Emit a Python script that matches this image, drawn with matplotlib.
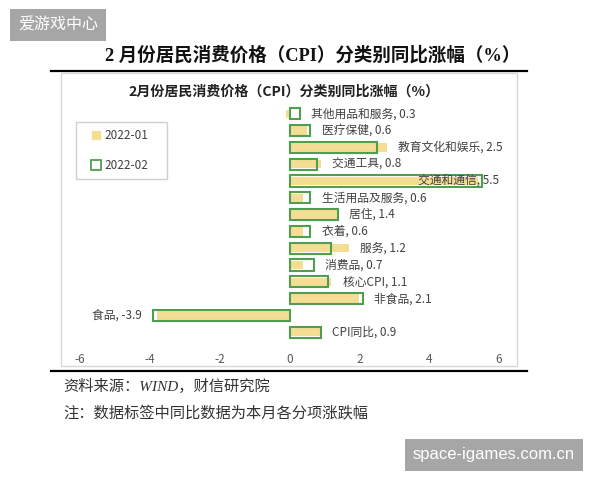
import numpy as np
import matplotlib
matplotlib.use('Agg')
import matplotlib.pyplot as plt
from matplotlib.lines import Line2D
from matplotlib.patches import Rectangle

plt.rcParams['font.family'] = ['Noto Sans CJK SC', 'DejaVu Sans']

# --- data (top to bottom) ---
categories = ['其他用品和服务', '医疗保健', '教育文化和娱乐', '交通工具', '交通和通信',
              '生活用品及服务', '居住', '衣着', '服务', '消费品', '核心CPI', '非食品',
              '食品', 'CPI同比']
jan_2022 = [-0.1, 0.5, 2.8, 0.9, 5.4, 0.4, 1.4, 0.4, 1.7, 0.4, 1.2, 2.0, -3.8, 0.9]
feb_2022 = [0.3, 0.6, 2.5, 0.8, 5.5, 0.6, 1.4, 0.6, 1.2, 0.7, 1.1, 2.1, -3.9, 0.9]
series_names = ['2022-01', '2022-02']
x_ticks = [-6, -4, -2, 0, 2, 4, 6]

title_outer = '2 月份居民消费价格（CPI）分类别同比涨幅（%）'
title_inner = '2月份居民消费价格（CPI）分类别同比涨幅（%）'
source_text = '资料来源：WIND，财信研究院'
note_text = '注：数据标签中同比数据为本月各分项涨跌幅'

W, H = 600, 480
def fx(px):
    return px / W
def fy(py):
    return 1 - py / H

fig = plt.figure(figsize=(6, 4.8), dpi=100)
fig.patch.set_facecolor('white')

yellow = '#F4DE94'
green = '#4E9F50'
text_c = '#404040'

# inner chart frame
fig.add_artist(Rectangle((fx(61), fy(366)), fx(516.5) - fx(61), fy(73) - fy(366),
                         transform=fig.transFigure, fill=False, edgecolor='#d9d9d9', lw=1))
# thick rules
for py in (70.5, 370.5):
    fig.add_artist(Line2D([fx(51), fx(527)], [fy(py), fy(py)], transform=fig.transFigure,
                          color='black', lw=1.6))

ax = fig.add_axes([fx(80), fy(340.7), fx(499) - fx(80), (340.7 - 105.3) / H])
y = np.arange(len(categories))
ax.barh(y, jan_2022, height=0.5, color=yellow, zorder=2)
ax.barh(y, feb_2022, height=0.66, fill=False, edgecolor=green, lw=1.5, zorder=3)

ax.set_xlim(x_ticks[0], x_ticks[-1])
ax.set_ylim(len(categories) - 0.5, -0.5)
ax.set_xticks(x_ticks)
ax.set_xticklabels([str(t) for t in x_ticks])
ax.set_yticks([])
ax.tick_params(axis='x', length=0, pad=9, labelsize=8.5, labelcolor='#595959')
for s in ax.spines.values():
    s.set_visible(False)

xmax = ax.get_xlim()[1]
for i, (cat, a, b) in enumerate(zip(categories, jan_2022, feb_2022)):
    lab = f'{cat}, {b:.1f}'
    if b < 0:
        ax.annotate(lab, (min(a, b), i), xytext=(-8, 0), textcoords='offset points',
                    ha='right', va='center', fontsize=8.5, color=text_c, zorder=4)
    elif max(a, b) > 0.75 * xmax:
        ax.text(xmax, i, lab, ha='right', va='center', fontsize=8.5, color=text_c, zorder=4)
    else:
        ax.annotate(lab, (max(a, b, 0), i), xytext=(8, 0), textcoords='offset points',
                    ha='left', va='center', fontsize=8.5, color=text_c, zorder=4)

# legend: own frame, entries placed inside it
fig.add_artist(Rectangle((fx(76), fy(179)), fx(167) - fx(76), fy(122) - fy(179),
                         transform=fig.transFigure, fill=False, edgecolor='#d0d0d0', lw=1))
handles = [Line2D([], [], marker='s', ls='none', markersize=6, markerfacecolor=yellow,
                  markeredgecolor=yellow),
           Line2D([], [], marker='s', ls='none', markersize=7, markerfacecolor='white',
                  markeredgecolor=green, markeredgewidth=1.3)]
leg = fig.legend(handles, series_names, loc='center left', bbox_to_anchor=(fx(91), fy(150.5)),
                 fontsize=8.5, frameon=False, borderpad=0, labelspacing=1.45,
                 handlelength=0.8, handletextpad=0.3, borderaxespad=0)
for t in leg.get_texts():
    t.set_color(text_c)

fig.text(fx(313), fy(55), title_outer, ha='center', va='center', fontsize=13.3,
         fontweight='bold', family=['Liberation Serif', 'Noto Sans CJK SC'], color='#111111')
fig.text(fx(284.5), fy(92), title_inner, ha='center', va='center', fontsize=10.1,
         fontweight='bold', color='#222222')

fig.text(fx(63), fy(386), source_text, ha='left', va='center', fontsize=11,
         style='italic', family=['Liberation Serif', 'Noto Sans CJK SC'], color='#333333')
fig.text(fx(63), fy(413), note_text, ha='left', va='center', fontsize=11,
         style='italic', family=['Liberation Serif', 'Noto Sans CJK SC'], color='#333333')

# watermarks
fig.text(fx(18), fy(25), '爱游戏中心', ha='left', va='center', fontsize=11.5, color='white',
         bbox=dict(boxstyle='square,pad=0.5', facecolor='#a6a6a6', edgecolor='none'))
fig.text(fx(413), fy(455), 'space-igames.com.cn', ha='left', va='center', fontsize=12,
         color='white', family=['Liberation Sans'],
         bbox=dict(boxstyle='square,pad=0.5', facecolor='#a6a6a6', edgecolor='none'))

fig.savefig('out.png', dpi=100, facecolor='white')
